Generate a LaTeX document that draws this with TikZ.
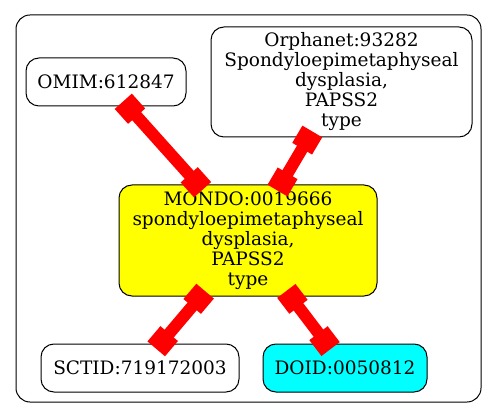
\documentclass[tikz,border=0pt]{standalone}
\usepackage{fontspec}
\setmainfont{DejaVu Serif}
\usetikzlibrary{arrows.meta}
\definecolor{gvyellow}{RGB}{255,255,0}
\definecolor{gvcyan}{RGB}{0,255,255}
\definecolor{gvred}{RGB}{255,0,0}
\begin{document}
\begin{tikzpicture}[x=1pt,y=-1pt,
  nd/.style={draw=black, line width=1pt, rounded corners=13pt, align=center,
    font=\fontsize{18.5}{20}\selectfont, inner sep=0pt},
  lk/.style={draw=gvred, line width=12pt,
    {Square[length=20pt,width=23pt]}-{Square[length=20pt,width=23pt]},
    shorten <=-7pt, shorten >=-7pt}]
\useasboundingbox (0,0) rectangle (497,419);
\draw[rounded corners=14pt, line width=1pt] (16,15) rectangle (481,402);
\node[nd, minimum width=160pt, minimum height=48pt] (omim) at (106,82) {OMIM:612847};
\node[nd, minimum width=261pt, minimum height=110pt] (orpha) at (341.5,82)
  {Orphanet:93282\\Spondyloepimetaphyseal\\dysplasia,\\PAPSS2\\type};
\node[nd, fill=gvyellow, minimum width=258pt, minimum height=111pt] (mondo) at (248,240.5)
  {MONDO:0019666\\spondyloepimetaphyseal\\dysplasia,\\PAPSS2\\type};
\node[nd, minimum width=198pt, minimum height=48pt] (sctid) at (140,368) {SCTID:719172003};
\node[nd, fill=gvcyan, minimum width=164pt, minimum height=48pt] (doid) at (345,368) {DOID:0050812};
\draw[lk] (omim) -- (mondo);
\draw[lk] (orpha) -- (mondo);
\draw[lk] (mondo) -- (sctid);
\draw[lk] (mondo) -- (doid);
\end{tikzpicture}
\end{document}
